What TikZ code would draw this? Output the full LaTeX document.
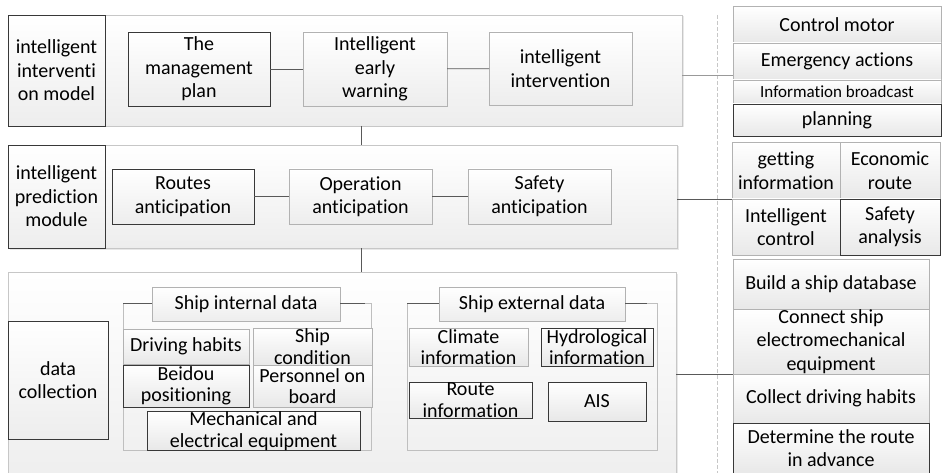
\documentclass[tikz,border=0pt]{standalone}
\usepackage{fontspec}
\setmainfont{Carlito}[Ligatures=NoCommon]
\usetikzlibrary{shadows}

% box from corner (x1,y1) to corner (x2,y2): style, name, x1, y1, x2, y2, text
\newcommand\bx[7]{%
  \node[#1, minimum width={(#5-#3)*1pt}, minimum height={(#6-#4)*1pt}]
    (#2) at ({(#3+#5)/2},{(#4+#6)/2}) {#7};}

\begin{document}
\begin{tikzpicture}[x=1pt, y=-1pt,
  base/.style={inner sep=0pt, outer sep=0pt, line width=0.8pt, align=center,
    font=\fontsize{20}{23.5}\selectfont, text=black},
  tight/.style={font=\fontsize{20}{21.5}\selectfont},
  panel/.style={base, draw=black!22, top color=white, bottom color=black!7,
    drop shadow={shadow xshift=1.5pt, shadow yshift=-1.5pt, opacity=0.18}},
  darkbox/.style={base, draw=black!78, top color=white, bottom color=black!7,
    drop shadow={shadow xshift=1pt, shadow yshift=-1pt, opacity=0.15}},
  lightbox/.style={base, draw=black!30, top color=white, bottom color=black!7,
    drop shadow={shadow xshift=1pt, shadow yshift=-1pt, opacity=0.15}},
  cell/.style={base, draw=black!30, top color=white, bottom color=black!9},
  darkcell/.style={base, draw=black!78, top color=white, bottom color=black!9},
  groupframe/.style={draw=black!25, line width=0.8pt},
  link/.style={draw=black!65, line width=0.8pt},
  divider/.style={draw=black!22, line width=0.8pt, dash pattern=on 4pt off 2pt}]

\useasboundingbox (0,0) rectangle (942,473);
\clip (0,0) rectangle (942,473);

% ---------- intervention layer ----------
\bx{panel}{p1}{8}{15}{682}{126}{}
\bx{darkbox}{l1}{8}{15}{105}{126}{intelligent\\interventi\\on model}
\bx{darkbox}{mp}{128}{32}{270}{106}{The\\management\\plan}
\bx{lightbox}{ew}{303}{32}{447}{106}{Intelligent\\early\\warning}
\bx{lightbox}{ii}{489}{32}{632}{105}{intelligent\\intervention}
\draw[link] (mp) -- (ew);
\draw[link] (ew) -- (ii);

% ---------- prediction layer ----------
\bx{panel}{p2}{8}{145}{677}{248}{}
\bx{darkbox}{l2}{8}{145}{105}{248}{intelligent\\prediction\\module}
\bx{darkbox}{ra}{112}{169}{254}{224}{Routes\\anticipation}
\bx{lightbox}{oa}{289}{169}{432}{224}{Operation\\anticipation}
\bx{lightbox}{sa}{468}{169}{611}{224}{Safety\\anticipation}
\draw[link] (ra) -- (oa);
\draw[link] (oa) -- (sa);

% ---------- data collection layer ----------
\bx{panel}{p3}{8}{272}{676}{490}{}
\bx{darkbox}{l3}{8}{321}{108}{439}{data\\collection}

% ship internal data group
\draw[groupframe] (123,303) rectangle (371,450);
\bx{lightbox}{sid}{152}{287}{340}{321}{Ship internal data}
\draw[link] (123,303) -- (sid.west |- 0,303);
\draw[link] (sid.east |- 0,303) -- (365,303);
\bx{cell}{dh}{123}{329}{249}{364}{Driving habits}
\bx{cell,tight}{sc}{253}{328}{372}{365}{Ship\\condition}
\bx{darkcell,tight}{bp}{123}{365}{249}{407}{Beidou\\positioning}
\bx{cell,tight}{pb}{253}{365}{372}{407}{Personnel on\\board}
\bx{darkcell,tight}{me}{147}{412}{360}{450}{Mechanical and\\electrical equipment}

% ship external data group
\draw[groupframe] (407,303) rectangle (657,450);
\bx{lightbox}{sed}{439}{287}{625}{321}{Ship external data}
\draw[link] (407,303) -- (sed.west |- 0,303);
\draw[link] (sed.east |- 0,303) -- (647,303);
\bx{cell,tight}{ci}{409}{328}{528}{366}{Climate\\information}
\bx{darkcell,tight}{hi}{541}{328}{653}{366}{Hydrological\\information}
\bx{darkcell,tight}{ri}{409}{382}{532}{418}{Route\\information}
\bx{darkcell}{ais}{548}{382}{646}{421}{AIS}

% layer-to-layer links
\coordinate (vx) at (361,0);
\draw[link] (p1.south -| vx) -- (p2.north -| vx);
\draw[link] (p2.south -| vx) -- (p3.north -| vx);

% ---------- right-hand column ----------
\draw[divider] (717,15) -- (717,473);

\bx{cell}{cm}{733}{6}{941}{43}{Control motor}
\bx{cell}{ea}{733}{43}{941}{80}{Emergency actions}
\bx{cell}{ib}{733}{80}{941}{104}{\fontsize{17}{20}\selectfont Information broadcast}
\bx{darkcell}{pl}{733}{104}{941}{136}{planning}

\bx{cell}{gi}{732}{142}{840}{199}{getting\\information}
\bx{cell}{er}{840}{142}{940}{199}{Economic\\route}
\bx{cell}{ic}{732}{199}{840}{255}{Intelligent\\control}
\bx{darkcell}{san}{840}{199}{940}{255}{Safety\\analysis}

\bx{cell}{bd}{733}{259}{929}{309}{Build a ship database}
\bx{cell}{ce}{733}{309}{929}{374}{Connect ship\\electromechanical\\equipment}
\bx{cell}{cd}{733}{374}{929}{423}{Collect driving habits}
\bx{darkcell}{dr}{733}{423}{929}{473}{Determine the route\\in advance}

% links from the layers to the column
\coordinate (h1) at (0,75);
\draw[link, draw=black!40] (p1.east |- h1) -- (ea.west |- h1);
\draw[link] (p2.east |- gi.south west) -- (gi.south west);
\draw[link] (p3.east |- cd.north west) -- (cd.north west);
\end{tikzpicture}
\end{document}
